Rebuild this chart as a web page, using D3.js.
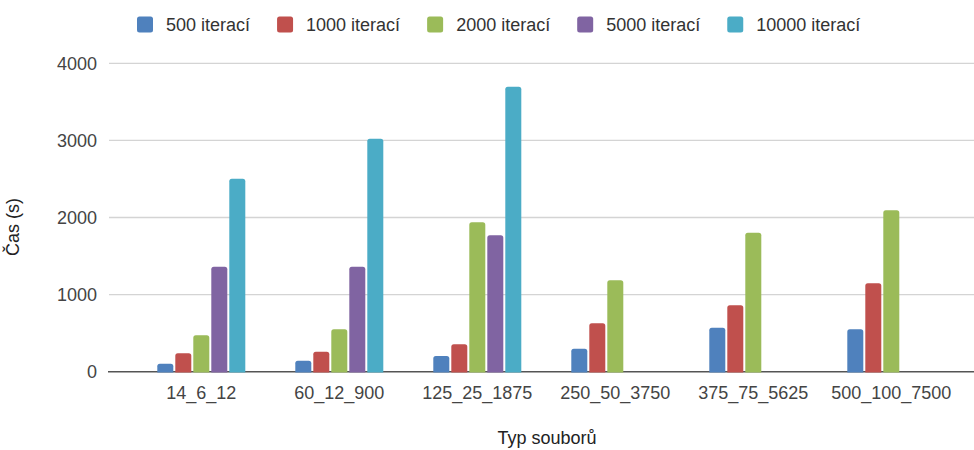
<!DOCTYPE html>
<html>
<head>
<meta charset="utf-8">
<script src="https://cdn.jsdelivr.net/npm/d3@7"></script>
<style>
  html, body { margin: 0; padding: 0; background: #fff; }
  svg { display: block; font-family: "Liberation Sans", Arial, sans-serif; }
</style>
</head>
<body>
<svg id="chart" width="974" height="450"></svg>
<script>
// File types (x categories)
const categories = ["14_6_12", "60_12_900", "125_25_1875", "250_50_3750", "375_75_5625", "500_100_7500"];

// Series names (legend) and colours
const seriesNames = ["500 iterací", "1000 iterací", "2000 iterací", "5000 iterací", "10000 iterací"];
const seriesColors = ["#4f81bd", "#c0504d", "#9bbb59", "#8064a2", "#4bacc6"];

// Run time in seconds per series, one value per category (null = not measured)
const it500   = [104, 143, 204, 298, 571, 550];
const it1000  = [239, 259, 355, 628, 861, 1147];
const it2000  = [472, 550, 1938, 1186, 1803, 2093];
const it5000  = [1362, 1362, 1769, null, null, null];
const it10000 = [2503, 3022, 3696, null, null, null];
const seriesValues = [it500, it1000, it2000, it5000, it10000];

// Y axis ticks and titles
const yTicks = [0, 1000, 2000, 3000, 4000];
const xTitle = "Typ souborů";
const yTitle = "Čas (s)";

const svg = d3.select("#chart");
const fontSize = 18;
const fontFamily = "'Liberation Sans', Arial, sans-serif";

const gridLeft = 109, gridRight = 974;
const y = d3.scaleLinear().domain([0, 4000]).range([371.7, 63.3]);
const x0 = d3.scaleBand().domain(categories).range([132.3, 960.3]).paddingInner(0).paddingOuter(0);
const x1 = d3.scaleBand().domain(d3.range(seriesNames.length)).range([25, 113]).paddingInner(1 / 9).paddingOuter(0);

// Horizontal gridlines
svg.append("g")
  .selectAll("line")
  .data(yTicks.filter(t => t !== 0))
  .join("line")
  .attr("x1", gridLeft).attr("x2", gridRight)
  .attr("y1", d => y(d)).attr("y2", d => y(d))
  .attr("stroke", "#d4d4d4").attr("stroke-width", 1.3);

// Baseline at zero
svg.append("line")
  .attr("x1", gridLeft - 1).attr("x2", gridRight)
  .attr("y1", y(0)).attr("y2", y(0))
  .attr("stroke", "#555").attr("stroke-width", 1.5);

// Y axis tick labels
const yAxis = d3.axisLeft(y).tickValues(yTicks).tickSize(0).tickPadding(0).tickFormat(d3.format("d"));
const yg = svg.append("g").attr("transform", `translate(97,0)`).call(yAxis);
yg.select(".domain").remove();
yg.selectAll("text")
  .attr("font-size", fontSize)
  .attr("font-family", fontFamily)
  .attr("fill", "#444");

// X axis category labels
const xAxis = d3.axisBottom(x0).tickSize(0).tickPadding(0);
const xg = svg.append("g").attr("transform", `translate(0,386)`).call(xAxis);
xg.select(".domain").remove();
xg.selectAll("text")
  .attr("font-size", fontSize)
  .attr("font-family", fontFamily)
  .attr("fill", "#444");

// Bars with slightly rounded top corners
function barPath(x, yTop, w, yBase, r) {
  const h = yBase - yTop;
  r = Math.min(r, h / 2, w / 2);
  return `M${x},${yBase}V${yTop + r}Q${x},${yTop} ${x + r},${yTop}H${x + w - r}Q${x + w},${yTop} ${x + w},${yTop + r}V${yBase}Z`;
}

const barData = [];
categories.forEach((c, ci) => {
  seriesValues.forEach((vals, si) => {
    const v = vals[ci];
    if (v != null) barData.push({ c, si, v });
  });
});

svg.append("g")
  .selectAll("path")
  .data(barData)
  .join("path")
  .attr("d", d => barPath(x0(d.c) + x1(d.si), y(d.v), x1.bandwidth(), y(0) + 0.8, 2.5))
  .attr("fill", d => seriesColors[d.si]);

// Legend along the top
const legend = svg.append("g").attr("transform", "translate(137,0)");
let lx = 0;
seriesNames.forEach((name, i) => {
  const item = legend.append("g").attr("transform", `translate(${lx},0)`);
  item.append("rect")
    .attr("x", 0).attr("y", 16.5).attr("width", 16).attr("height", 16).attr("rx", 2.5)
    .attr("fill", seriesColors[i]);
  const t = item.append("text")
    .attr("x", 29).attr("y", 31)
    .attr("font-size", fontSize)
    .attr("font-family", fontFamily)
    .attr("fill", "#333")
    .text(name);
  lx += 29 + t.node().getComputedTextLength() + 27;
});

// Axis titles
svg.append("text")
  .attr("x", 547).attr("y", 444)
  .attr("text-anchor", "middle")
  .attr("font-size", fontSize)
  .attr("font-family", fontFamily)
  .attr("fill", "#222")
  .text(xTitle);

svg.append("text")
  .attr("transform", "translate(19,227) rotate(-90)")
  .attr("text-anchor", "middle")
  .attr("font-size", fontSize)
  .attr("font-family", fontFamily)
  .attr("fill", "#222")
  .text(yTitle);
</script>
</body>
</html>
